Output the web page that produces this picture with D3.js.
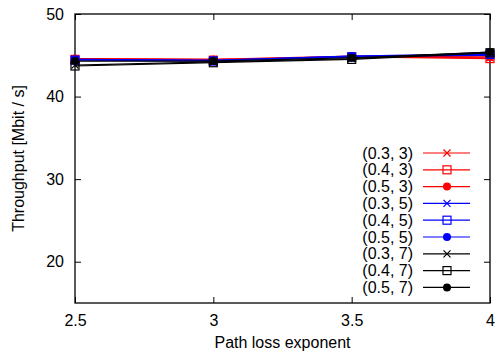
<!DOCTYPE html>
<html>
<head>
<meta charset="utf-8">
<script src="https://cdn.jsdelivr.net/npm/d3@7"></script>
<style>
  body { margin: 0; background: #fff; }
  text { font-family: "Liberation Sans", Arial, sans-serif; }
</style>
</head>
<body>
<div id="chart"></div>
<script>
const exponents = [2.5, 3, 3.5, 4];
const seriesNames = ['(0.3, 3)', '(0.4, 3)', '(0.5, 3)', '(0.3, 5)', '(0.4, 5)', '(0.5, 5)', '(0.3, 7)', '(0.4, 7)', '(0.5, 7)'];
const seriesColors = ['#ff0000', '#ff0000', '#ff0000', '#0000ff', '#0000ff', '#0000ff', '#000000', '#000000', '#000000'];
const seriesMarkers = ['cross', 'square', 'circle', 'cross', 'square', 'circle', 'cross', 'square', 'circle'];
const throughput = [
	[44.6, 44.5, 44.8, 44.7],
	[44.5, 44.4, 44.8, 44.6],
	[44.6, 44.5, 44.9, 44.8],
	[44.5, 44.4, 44.9, 45.0],
	[44.4, 44.3, 44.8, 45.1],
	[44.5, 44.4, 44.9, 45.2],
	[43.8, 44.2, 44.6, 45.4],
	[43.7, 44.1, 44.5, 45.3],
	[44.3, 44.3, 44.7, 45.4]
];
const yTicks = [20, 30, 40, 50];
const xTicks = [2.5, 3, 3.5, 4];

const margin = { top: 14, right: 7, bottom: 55, left: 75 };
const W = 497, H = 358;
const width = W - margin.left - margin.right;
const height = H - margin.top - margin.bottom;
const fs = 16;

const svg = d3.select('#chart').append('svg').attr('width', W).attr('height', H);
const g = svg.append('g').attr('transform', `translate(${margin.left},${margin.top})`);

const x = d3.scaleLinear().domain([2.5, 4]).range([0, width]);
const y = d3.scaleLinear().domain([15, 50]).range([height, 0]);

// tick marks (inward, on all sides)
const tl = 6;
g.append('g').attr('transform', `translate(0,${height})`)
	.call(d3.axisBottom(x).tickValues(xTicks).tickSize(-tl).tickPadding(12).tickFormat(d3.format('')))
	.call((a) => a.select('.domain').remove());
g.append('g')
	.call(d3.axisTop(x).tickValues(xTicks).tickSize(-tl).tickFormat(''))
	.call((a) => a.select('.domain').remove());
g.append('g')
	.call(d3.axisLeft(y).tickValues(yTicks).tickSize(-tl).tickPadding(11))
	.call((a) => a.select('.domain').remove());
g.append('g').attr('transform', `translate(${width},0)`)
	.call(d3.axisRight(y).tickValues(yTicks).tickSize(-tl).tickFormat(''))
	.call((a) => a.select('.domain').remove());

g.selectAll('.tick text').attr('font-size', fs).attr('fill', '#000').style('font-family', '"Liberation Sans", Arial, sans-serif');
g.selectAll('.tick line').attr('stroke', '#000');

g.append('rect').attr('width', width).attr('height', height)
	.attr('fill', 'none').attr('stroke', '#000').attr('stroke-width', 1.3);

function drawMarker(sel, type, color) {
	if (type === 'cross') {
		sel.append('path').attr('d', 'M-3.5,-3.5L3.5,3.5M-3.5,3.5L3.5,-3.5')
			.attr('stroke', color).attr('stroke-width', 1.2).attr('fill', 'none');
	} else if (type === 'square') {
		sel.append('rect').attr('x', -4).attr('y', -4).attr('width', 8).attr('height', 8)
			.attr('stroke', color).attr('stroke-width', 1.2).attr('fill', 'none');
	} else {
		sel.append('circle').attr('r', 4).attr('fill', color);
	}
}

const line = d3.line().x((d, i) => x(exponents[i])).y((d) => y(d));

throughput.forEach((vals, s) => {
	g.append('path').datum(vals).attr('d', line)
		.attr('fill', 'none').attr('stroke', seriesColors[s]).attr('stroke-width', 1.2);
	vals.forEach((v, i) => {
		const m = g.append('g').attr('transform', `translate(${x(exponents[i])},${y(v)})`);
		drawMarker(m, seriesMarkers[s], seriesColors[s]);
	});
});

// legend
const legend = svg.append('g');
const rowH = 16.8;
seriesNames.forEach((name, s) => {
	const yy = 153 + s * rowH;
	legend.append('text').attr('x', 413).attr('y', yy).attr('dy', '0.35em')
		.attr('text-anchor', 'end').attr('font-size', fs).text(name);
	legend.append('line').attr('x1', 423).attr('x2', 470).attr('y1', yy).attr('y2', yy)
		.attr('stroke', seriesColors[s]).attr('stroke-width', 1.2);
	const m = legend.append('g').attr('transform', `translate(447,${yy})`);
	drawMarker(m, seriesMarkers[s], seriesColors[s]);
});

svg.append('text').attr('x', margin.left + width / 2).attr('y', 348)
	.attr('text-anchor', 'middle').attr('font-size', fs).text('Path loss exponent');
svg.append('text').attr('transform', `translate(24,${margin.top + height / 2}) rotate(-90)`)
	.attr('text-anchor', 'middle').attr('font-size', fs).text('Throughput [Mbit / s]');
</script>
</body>
</html>
